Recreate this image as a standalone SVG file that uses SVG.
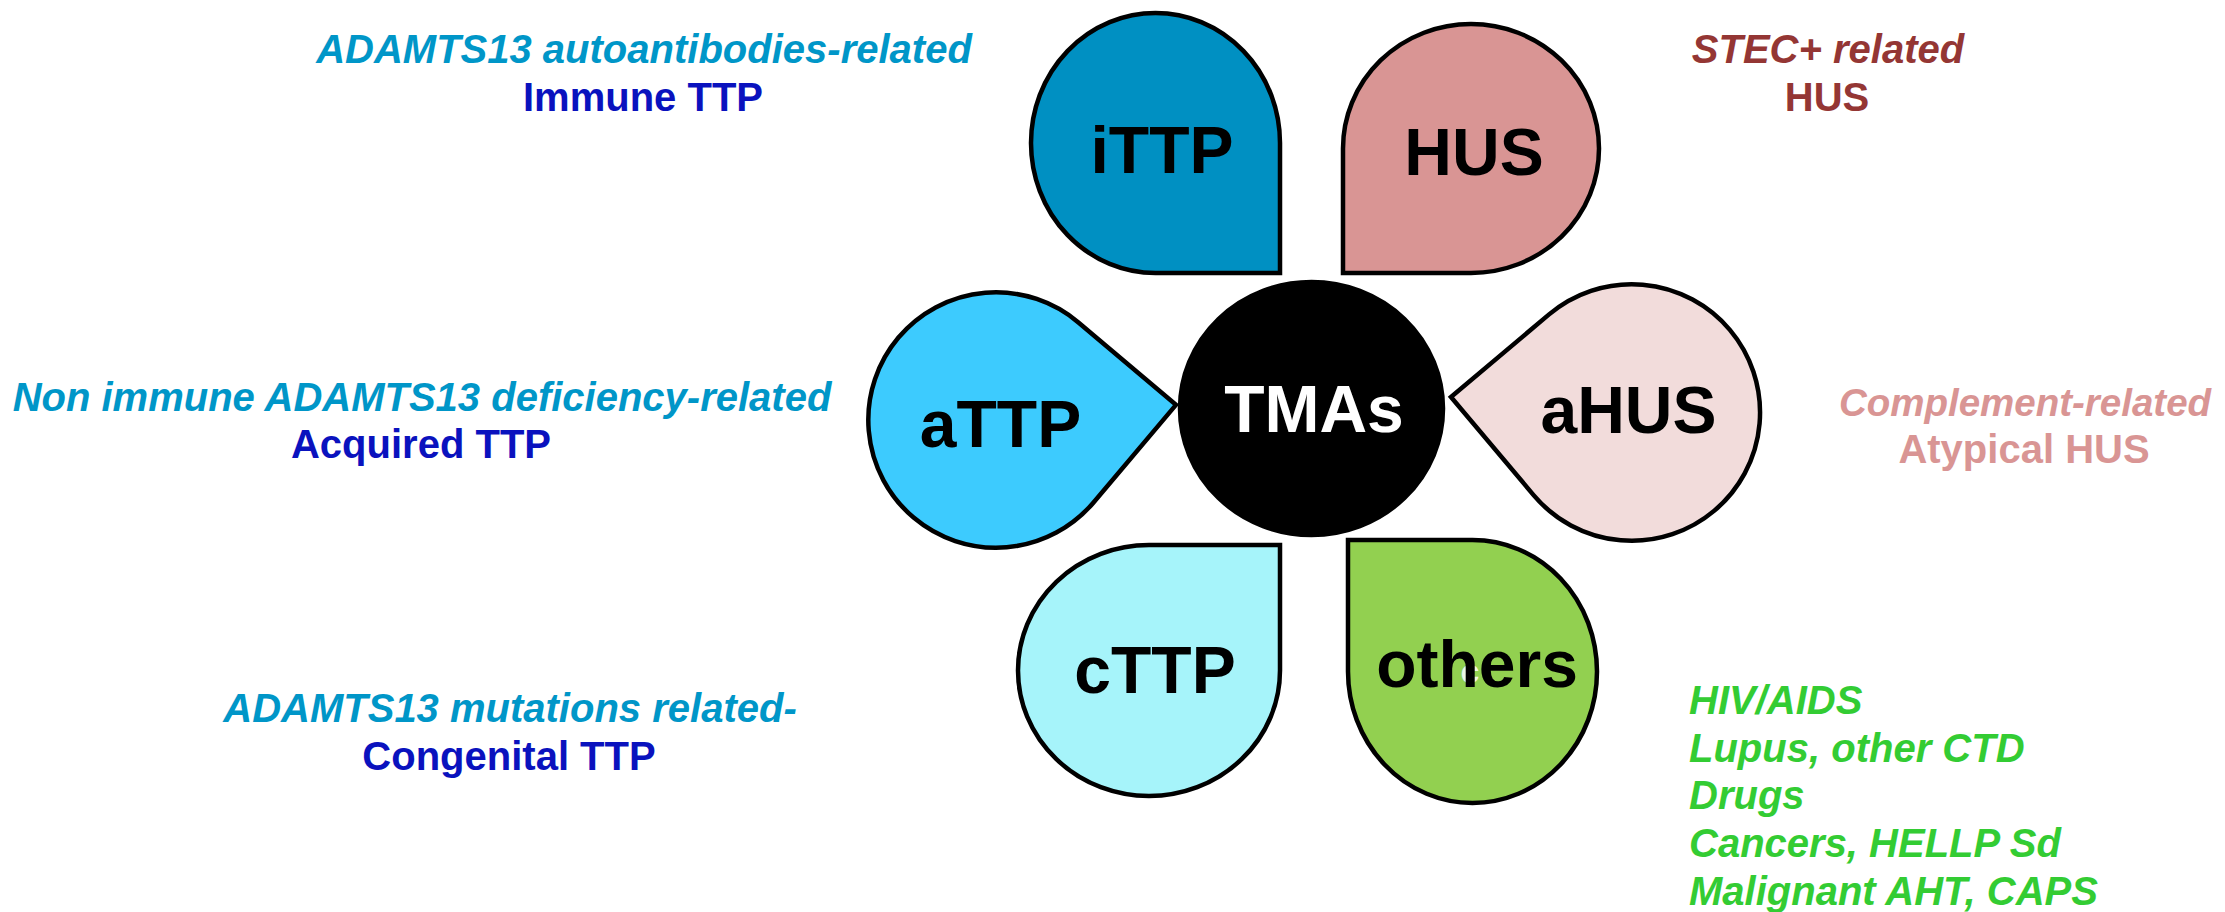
<svg xmlns="http://www.w3.org/2000/svg" width="2225" height="912" viewBox="0 0 2225 912">
<style>
.shape{stroke:#000;stroke-width:4.5;stroke-linejoin:miter;stroke-miterlimit:10}
.nl{font-family:"Liberation Sans",Arial,sans-serif;font-weight:bold;font-size:66px;text-anchor:middle;fill:#000}
.lab{font-family:"Liberation Sans",Arial,sans-serif;font-weight:bold;font-size:40px;text-anchor:middle}
.it{font-style:italic}
</style>
<rect width="2225" height="912" fill="#fff"/>
<g id="connectors"></g>
<g id="node-iTTP">
<path class="shape" fill="#0090C2" d="M1280,143 L1280,273 L1155.5,273 A124.5 130 0 1 1 1280,143 Z"/>
<text class="nl" x="1162" y="172.7">iTTP</text>
</g>
<g id="node-HUS">
<path class="shape" fill="#D99594" d="M1471,273 L1343,273 L1343,148.5 A128 124.5 0 1 1 1471,273 Z"/>
<text class="nl" x="1474" y="175">HUS</text>
</g>
<g id="node-aTTP">
<path class="shape" fill="#3DCBFE" transform="translate(996,420) rotate(-4.8)" d="M90.3,-90.3 L180.6,0 L90.3,90.3 A127.7 127.7 0 1 1 90.3,-90.3 Z"/>
<text class="nl" x="1000.5" y="446.7">aTTP</text>
</g>
<g id="node-TMAs">
<ellipse class="shape" fill="#000" cx="1311.5" cy="408.5" rx="131.5" ry="126.5"/>
<text class="nl" x="1314" y="432" fill="#fff" style="fill:#fff">TMAs</text>
</g>
<g id="node-aHUS">
<path class="shape" fill="#F2DCDB" transform="translate(1631.7,412.5) rotate(184.9)" d="M90.7,-90.7 L181.4,0 L90.7,90.7 A128.3 128.3 0 1 1 90.7,-90.7 Z"/>
<text class="nl" x="1628.5" y="432.7">aHUS</text>
</g>
<g id="node-cTTP">
<path class="shape" fill="#A6F4FA" d="M1149,545 L1280,545 L1280,670.5 A131 125.5 0 1 1 1149,545 Z"/>
<text class="nl" x="1155" y="693">cTTP</text>
</g>
<g id="node-others">
<path class="shape" fill="#92D050" d="M1348,671.5 L1348,540 L1472.5,540 A124.5 131.5 0 1 1 1348,671.5 Z"/>
<text x="1470" y="683" style="font-family:'Liberation Sans',Arial,sans-serif;font-size:34px;font-weight:bold;fill:#fff;text-anchor:middle" opacity="0.85">c</text>
<text class="nl" x="1477" y="687">others</text>
</g>
<g id="label-iTTP">
<text class="lab it" x="644" y="63.3" fill="#0096C8">ADAMTS13 autoantibodies-related</text>
<text class="lab" x="643" y="110.7" fill="#0A12BE">Immune TTP</text>
</g>
<g id="label-aTTP">
<text class="lab it" x="422" y="410.7" fill="#0096C8">Non immune ADAMTS13 deficiency-related</text>
<text class="lab" x="421" y="457.5" fill="#0A12BE">Acquired TTP</text>
</g>
<g id="label-cTTP">
<text class="lab it" x="510" y="721.7" fill="#0096C8">ADAMTS13 mutations related-</text>
<text class="lab" x="509" y="770" fill="#0A12BE">Congenital TTP</text>
</g>
<g id="label-HUS">
<text class="lab it" x="1828" y="63.3" fill="#943634">STEC+ related</text>
<text class="lab" x="1827" y="111" fill="#943634">HUS</text>
</g>
<g id="label-aHUS">
<text class="lab it" x="2025" y="416" fill="#D99594" style="font-size:38.5px">Complement-related</text>
<text class="lab" x="2024" y="462.7" fill="#D99594">Atypical HUS</text>
</g>
<g id="label-others" fill="#33CC33">
<text class="lab it" x="1689" y="714" style="text-anchor:start">HIV/AIDS</text>
<text class="lab it" x="1689" y="761.7" style="text-anchor:start">Lupus, other CTD</text>
<text class="lab it" x="1689" y="809" style="text-anchor:start">Drugs</text>
<text class="lab it" x="1689" y="856.7" style="text-anchor:start">Cancers, HELLP Sd</text>
<text class="lab it" x="1689" y="905" style="text-anchor:start">Malignant AHT, CAPS</text>
</g>
</svg>
